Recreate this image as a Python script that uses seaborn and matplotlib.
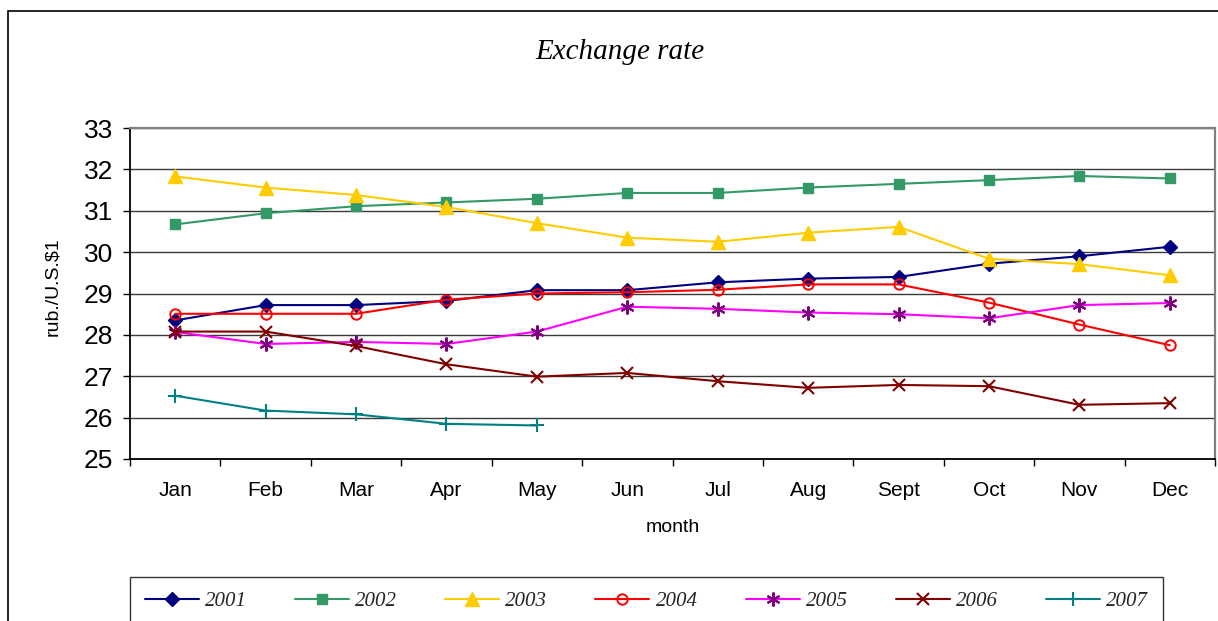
import numpy as np
import pandas as pd
import matplotlib
matplotlib.use("Agg")
import matplotlib.pyplot as plt
import seaborn as sns
from matplotlib.patches import Rectangle
from matplotlib.ticker import FixedLocator

months = ["Jan", "Feb", "Mar", "Apr", "May", "Jun", "Jul", "Aug", "Sept", "Oct", "Nov", "Dec"]
years = ["2001", "2002", "2003", "2004", "2005", "2006", "2007"]

y2001 = [28.35, 28.72, 28.72, 28.82, 29.08, 29.08, 29.27, 29.36, 29.40, 29.72, 29.90, 30.13]
y2002 = [30.67, 30.94, 31.11, 31.20, 31.29, 31.43, 31.43, 31.56, 31.65, 31.74, 31.84, 31.78]
y2003 = [31.83, 31.56, 31.38, 31.09, 30.70, 30.35, 30.25, 30.47, 30.61, 29.84, 29.71, 29.44]
y2004 = [28.51, 28.51, 28.51, 28.85, 29.00, 29.03, 29.09, 29.22, 29.22, 28.78, 28.25, 27.75]
y2005 = [28.07, 27.78, 27.83, 27.78, 28.08, 28.68, 28.63, 28.54, 28.50, 28.40, 28.72, 28.77]
y2006 = [28.08, 28.08, 27.73, 27.29, 26.99, 27.08, 26.88, 26.72, 26.79, 26.76, 26.31, 26.35]
y2007 = [26.53, 26.17, 26.08, 25.85, 25.81]

series = [y2001, y2002, y2003, y2004, y2005, y2006, y2007]

rows = []
for yr, vals in zip(years, series):
    for i, v in enumerate(vals):
        rows.append(dict(year=yr, month=months[i], pos=i, rate=v))
df = pd.DataFrame(rows)

styles = {
    "2001": dict(color="#000080", marker="D", markersize=7, markerfacecolor="#000080",
                 markeredgecolor="#000080", markeredgewidth=1),
    "2002": dict(color="#339966", marker="s", markersize=7.5, markerfacecolor="#339966",
                 markeredgecolor="#339966", markeredgewidth=1),
    "2003": dict(color="#FFCC00", marker="^", markersize=9.5, markerfacecolor="#FFCC00",
                 markeredgecolor="#FFCC00", markeredgewidth=1),
    "2004": dict(color="#FF0000", marker="o", markersize=7.5, markerfacecolor="none",
                 markeredgecolor="#FF0000", markeredgewidth=1.4),
    "2005": dict(color="#FF00FF", marker=(6, 2, 0), markersize=10, markerfacecolor="#800080",
                 markeredgecolor="#800080", markeredgewidth=1.5),
    "2006": dict(color="#800000", marker="x", markersize=8.5, markerfacecolor="#800000",
                 markeredgecolor="#800000", markeredgewidth=1.5),
    "2007": dict(color="#008080", marker="+", markersize=10, markerfacecolor="#008080",
                 markeredgecolor="#008080", markeredgewidth=1.5),
}

sns.set_theme(style="white")
plt.rcParams["font.family"] = ["Liberation Sans", "DejaVu Sans"]

W, H = 1218, 621
fig = plt.figure(figsize=(W / 100, H / 100), dpi=100)
fig.patch.set_facecolor("white")

L, R, T, B = 130, 1215, 128, 459
ax = fig.add_axes([L / W, 1 - B / H, (R - L) / W, (B - T) / H])
ax.set_facecolor("white")

for yr in years:
    sns.lineplot(data=df[df["year"] == yr], x="pos", y="rate", ax=ax, label=yr,
                 linewidth=1.5, sort=False, estimator=None, **styles[yr])

ax.set_xlim(-0.5, len(months) - 0.5)
ax.set_ylim(25, 33)
ax.set_yticks(np.arange(25, 34, 1))
ax.set_xticks(np.arange(len(months)))
ax.set_xticklabels(months)
ax.xaxis.set_minor_locator(FixedLocator(np.arange(-0.5, len(months), 1)))

ax.tick_params(axis="x", which="major", length=0, pad=16, labelsize=15, colors="black")
ax.tick_params(axis="x", which="minor", length=5, width=1, color="black", direction="out", bottom=True)
ax.tick_params(axis="y", which="major", length=5, width=1, color="black", direction="out",
               left=True, pad=7, labelsize=19, labelcolor="black")

ax.yaxis.grid(True, color="#3a3a3a", linewidth=1)
ax.xaxis.grid(False)
ax.set_axisbelow(True)

for s in ["left", "bottom"]:
    ax.spines[s].set_color("black")
    ax.spines[s].set_linewidth(1.3)
for s in ["top", "right"]:
    ax.spines[s].set_color("#808080")
    ax.spines[s].set_linewidth(1.6)

ax.set_ylabel("")
ax.set_xlabel("month", fontsize=14, color="black", va="center")
ax.xaxis.set_label_coords((673 - L) / (R - L), -(527 - B) / (B - T))

fig.text(53 / W, 1 - 287 / H, "rub./U.S.$1", rotation=90, ha="center", va="center",
         fontsize=14, color="black")
fig.text(620 / W, 1 - 52 / H, "Exchange rate", ha="center", va="center",
         fontsize=21, color="black", family="Liberation Serif", style="italic")

handles, labels = ax.get_legend_handles_labels()
ax.get_legend().remove()
leg = fig.legend(handles, labels, loc="upper left",
                 bbox_to_anchor=(L / W, 1 - 577 / H, (1163 - L) / W, 0.0),
                 mode="expand", ncol=7, frameon=True, fancybox=False, shadow=False,
                 borderaxespad=0.0,
                 handlelength=2.6, handletextpad=0.3, borderpad=0.7,
                 prop=dict(family="Liberation Serif", style="italic", size=15))
leg.get_frame().set_edgecolor("black")
leg.get_frame().set_linewidth(1.0)

fig.patches.append(Rectangle((8 / W, -0.1), 1.2, 1.1 - 11 / H, transform=fig.transFigure,
                             fill=False, edgecolor="black", linewidth=1.2))

fig.savefig("out.png", dpi=100, facecolor="white")
